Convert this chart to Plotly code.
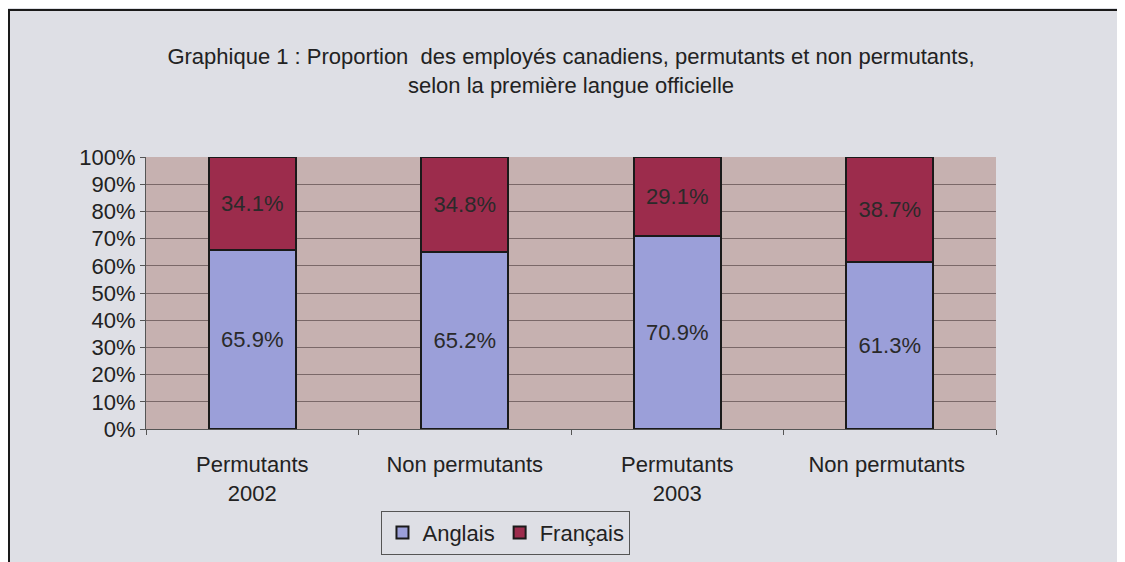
import plotly.graph_objects as go

categories = ["Permutants<br>2002", "Non permutants", "Permutants<br>2003", "Non permutants "]
anglais = [65.9, 65.2, 70.9, 61.3]
francais = [34.1, 34.8, 29.1, 38.7]
y_ticks = list(range(0, 101, 10))
y_tick_labels = [f"{v}%" for v in y_ticks]

font_family = "Liberation Sans, Arial, sans-serif"
FS = 22

# page body has an 8px margin, so the figure starts at (8, 8) in the window
L, R, T, B = 138, 137, 149, 141
W, H = 1125, 562
PW, PH = W - L - R, H - T - B

fig = go.Figure()
fig.add_trace(go.Bar(
    x=categories, y=anglais, name="Anglais",
    marker=dict(color="#9b9fd9", line=dict(color="#1a1a1a", width=2)),
    text=[f"{v:.1f}%" for v in anglais], textposition="inside",
    insidetextanchor="middle",
    textfont=dict(size=FS, color="#2a2a2a", family=font_family),
))
fig.add_trace(go.Bar(
    x=categories, y=francais, name="Français",
    marker=dict(color="#9c2c4c", line=dict(color="#1a1a1a", width=2)),
    text=[f"{v:.1f}%" for v in francais], textposition="inside",
    insidetextanchor="middle",
    textfont=dict(size=FS, color="#2a2a2a", family=font_family),
))

fx0 = (1 - L) / PW
fy1 = (PH + T - 2) / PH
frame_path = f"M {fx0},-1 L {fx0},{fy1} L 2,{fy1}"

fig.update_layout(
    barmode="stack",
    bargap=0.59,
    width=W, height=H,
    margin=dict(l=L, r=R, t=T, b=B),
    paper_bgcolor="#dedfe5",
    plot_bgcolor="#c6b1b0",
    font=dict(family=font_family, color="#222222"),
    title=dict(
        text="Graphique 1 : Proportion  des employés canadiens, permutants et non permutants,<br>selon la première langue officielle",
        x=0.5, xref="paper", xanchor="center",
        y=1 - 56 / H, yanchor="top",
        font=dict(size=FS, color="#222222", family=font_family),
    ),
    uniformtext=dict(minsize=FS, mode="show"),
    xaxis=dict(
        showline=True, linecolor="#555555", linewidth=1,
        ticks="outside", tickson="boundaries", ticklen=5, tickcolor="#555555",
        tickfont=dict(size=FS, color="#222222"),
        ticklabelstandoff=16,
        showgrid=False,
    ),
    yaxis=dict(
        range=[0, 100], tickvals=y_ticks, ticktext=y_tick_labels,
        showline=True, linecolor="#555555", linewidth=1,
        ticks="outside", ticklen=5, tickcolor="#555555",
        tickfont=dict(size=FS, color="#222222"),
        showgrid=True, gridcolor="#7a6868", gridwidth=1,
        zeroline=False,
    ),
    legend=dict(
        orientation="h", x=0.4235, xanchor="center", y=-0.30, yanchor="top",
        traceorder="normal",
        bgcolor="rgba(0,0,0,0)", bordercolor="#555555", borderwidth=1,
        font=dict(size=FS, color="#222222"),
        itemwidth=30,
    ),
    showlegend=True,
    shapes=[
        dict(type="path", xref="paper", yref="paper", path=frame_path,
             line=dict(color="#1a1a1a", width=2), layer="below"),
    ],
)

fig.write_html("out.html")
